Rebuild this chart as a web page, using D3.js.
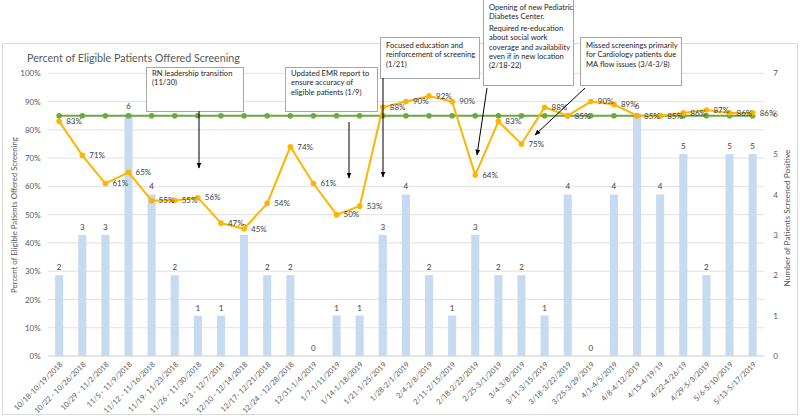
<!DOCTYPE html>
<html><head><meta charset="utf-8">
<script src="https://cdn.jsdelivr.net/npm/d3@7"></script>
<style>body{margin:0;background:#fff;font-family:Lato,'Open Sans',sans-serif;}</style>
</head><body><svg id="c" width="800" height="418"></svg>
<script>
const categories = ["10/18-10/19/2018","10/22 - 10/26/2018","10/29 - 11/2/2018","11/5 - 11/9/2018","11/12 - 11/16/2018","11/19- 11/23/2018","11/26 - 11/30/2018","12/3 - 12/7/2018","12/10 - 12/14/2018","12/17- 12/21/2018","12/24 - 12/28/2018","12/31-1/4/2019","1/7-1/11/2019","1/14-1/18/2019","1/21-1/25/2019","1/28-2/1/2019","2/4-2/8/2019","2/11-2/15/2019","2/18-2/22/2019","2/25-3/1/2019","3/4-3/8/2019","3/11-3/15/2019","3/18-3/22/2019","3/25-3/29/2019","4/1-4/5/2019","4/8-4/12/2019","4/15-4/19/19","4/22-4/26/19","4/29-5/3/2019","5/6-5/10/2019","5/13-5/17/2019"];
const percentOffered = [83,71,61,65,55,55,56,47,45,54,74,61,50,53,88,90,92,90,64,83,75,88,85,90,89,85,85,86,87,86,86];
const screenedPositive = [2,3,3,6,4,2,1,1,3,2,2,0,1,1,3,4,2,1,3,2,2,1,4,0,4,6,4,5,2,5,5];
const goalPercent = 85;
const leftTicks = [0,10,20,30,40,50,60,70,80,90,100];
const rightTicks = [0,1,2,3,4,5,6,7];
const title = "Percent of Eligible Patients Offered Screening";
const leftAxisTitle = "Percent of Eligible Patients Offered Screening";
const rightAxisTitle = "Number of Patients Screened Positive";
const annotationTexts = [
  [["RN leadership transition","(11/30)"]],
  [["Updated EMR report to","ensure accuracy of","eligible patients (1/9)"]],
  [["Focused education and","reinforcement of screening","(1/21)"]],
  [["Opening of new Pediatric","Diabetes Center."],["Required re-education","about social work","coverage and availability","even if in new location","(2/18-22)"]],
  [["Missed screenings primarily","for Cardiology patients due","MA flow issues (3/4-3/8)"]]
];

const svg = d3.select("#c");
const L = 47.6, R = 764.2, T = 73.3, B = 356;
const x = d3.scaleBand().domain(categories).range([L, R]).paddingInner(0.65).paddingOuter(0.325);
const yL = d3.scaleLinear().domain([0,100]).range([B, T]);
const yR = d3.scaleLinear().domain([0,7]).range([B, T]);
const cx = d => x(d) + x.bandwidth()/2;
const txt = "#595959";

function fit(sel, target, size){
  sel.attr("font-size", size);
  const w = sel.node().getComputedTextLength();
  if (w > 0) sel.attr("font-size", (size*target/w).toFixed(2));
  return sel;
}

// outer frame
svg.append("rect").attr("x",2.5).attr("y",43.5).attr("width",795).attr("height",371).attr("fill","#fff").attr("stroke","#d9d9d9");

// title
fit(svg.append("text").attr("x",27).attr("y",62).attr("fill",txt).text(title), 213, 13);

// gridlines
svg.append("g").selectAll("line").data(leftTicks).join("line")
  .attr("x1",L).attr("x2",R).attr("y1",d=>yL(d)).attr("y2",d=>yL(d))
  .attr("stroke",d=>d===0?"#bfbfbf":"#d9d9d9").attr("stroke-width",0.8);

// left axis
const axL = d3.axisLeft(yL).tickValues(leftTicks).tickFormat(d=>d+"%").tickSize(0).tickPadding(7);
const gL = svg.append("g").attr("transform",`translate(${L},0)`).call(axL);
gL.select(".domain").remove();
gL.selectAll("text").attr("font-size",8).attr("fill",txt).attr("font-family","Lato");

// right axis
const axR = d3.axisRight(yR).tickValues(rightTicks).tickFormat(d3.format("d")).tickSize(0).tickPadding(9);
const gR = svg.append("g").attr("transform",`translate(${R},0)`).call(axR);
gR.select(".domain").remove();
gR.selectAll("text").attr("font-size",8).attr("fill",txt).attr("font-family","Lato");

// bottom axis labels
const axB = d3.axisBottom(x).tickSize(0).tickPadding(0);
const gB = svg.append("g").attr("transform",`translate(0,${B})`).call(axB);
gB.select(".domain").remove();
gB.selectAll("text").attr("font-size",7.5).attr("fill",txt).attr("font-family","Lato")
  .attr("text-anchor","end").attr("dy",0).attr("y",0)
  .attr("transform","translate(4,9) rotate(-45)");

// axis titles
fit(svg.append("text").attr("transform",`translate(17,215) rotate(-90)`).attr("text-anchor","middle")
  .attr("fill",txt).text(leftAxisTitle), 156, 8);
fit(svg.append("text").attr("transform",`translate(790,218) rotate(-90)`).attr("text-anchor","middle")
  .attr("fill",txt).text(rightAxisTitle), 137, 8);

// bars
svg.append("g").selectAll("rect").data(screenedPositive).join("rect")
  .attr("x",(d,i)=>x(categories[i])).attr("width",x.bandwidth())
  .attr("y",d=>yR(d)).attr("height",d=>B-yR(d)).attr("fill","#c6daf0");
svg.append("g").selectAll("text").data(screenedPositive).join("text")
  .attr("x",(d,i)=>cx(categories[i])).attr("y",d=>yR(d)-5).attr("text-anchor","middle")
  .attr("font-size",8).attr("fill","#404040").text(d=>d);

// goal line
const goalData = categories.map(c=>({c, v:goalPercent}));
const line = d3.line().x(d=>cx(d.c)).y(d=>yL(d.v));
svg.append("path").datum(goalData).attr("d",line).attr("fill","none").attr("stroke","#6aaa3a").attr("stroke-width",2);
svg.append("g").selectAll("circle").data(goalData).join("circle")
  .attr("cx",d=>cx(d.c)).attr("cy",d=>yL(d.v)).attr("r",2.8).attr("fill","#6aaa3a");

// percent line
const pData = categories.map((c,i)=>({c, v:percentOffered[i]}));
svg.append("path").datum(pData).attr("d",line).attr("fill","none").attr("stroke","#ffb400").attr("stroke-width",2);
svg.append("g").selectAll("circle").data(pData).join("circle")
  .attr("cx",d=>cx(d.c)).attr("cy",d=>yL(d.v)).attr("r",2.8).attr("fill","#ffb400");
svg.append("g").selectAll("text").data(pData).join("text")
  .attr("x",d=>cx(d.c)+7).attr("y",d=>yL(d.v)).attr("dy","0.35em")
  .attr("font-size",8).attr("fill","#404040").text(d=>d.v+"%");

// annotations
const defs = svg.append("defs");
defs.append("marker").attr("id","ah").attr("viewBox","0 0 10 10").attr("refX",9).attr("refY",5)
  .attr("markerWidth",6).attr("markerHeight",6).attr("orient","auto")
  .append("path").attr("d","M0,1 L10,5 L0,9 Z").attr("fill","#000");
const boxes = [
  {x:146,y:67,w:97,h:44,ax1:199,ay1:111,ax2:199,ay2:168,ty:76},
  {x:285,y:67,w:92,h:44,ax1:349,ay1:122,ax2:349,ay2:178,ty:76},
  {x:380,y:37,w:99,h:41,ax1:383,ay1:78,ax2:383,ay2:177,ty:48},
  {x:483,y:-1,w:90,h:86,ax1:487,ay1:88,ax2:477,ay2:155,ty:10},
  {x:580,y:37,w:101,h:48,ax1:585,ay1:88,ax2:535,ay2:135,ty:48}
];
boxes.forEach((b,i)=>{
  const g = svg.append("g");
  g.append("rect").attr("x",b.x+0.5).attr("y",b.y+0.5).attr("width",b.w).attr("height",b.h)
    .attr("fill","#fff").attr("stroke","#a6a6a6");
  let yy = b.ty;
  annotationTexts[i].forEach((para,pi)=>{
    if(pi>0) yy += 2.5;
    para.forEach(ln=>{
      g.append("text").attr("x",b.x+6).attr("y",yy).attr("font-size",7.6).attr("fill","#262626").text(ln);
      yy += 9.3;
    });
  });
  svg.append("line").attr("x1",b.ax1).attr("y1",b.ay1).attr("x2",b.ax2).attr("y2",b.ay2)
    .attr("stroke","#000").attr("stroke-width",1).attr("marker-end","url(#ah)");
});
</script></body></html>
